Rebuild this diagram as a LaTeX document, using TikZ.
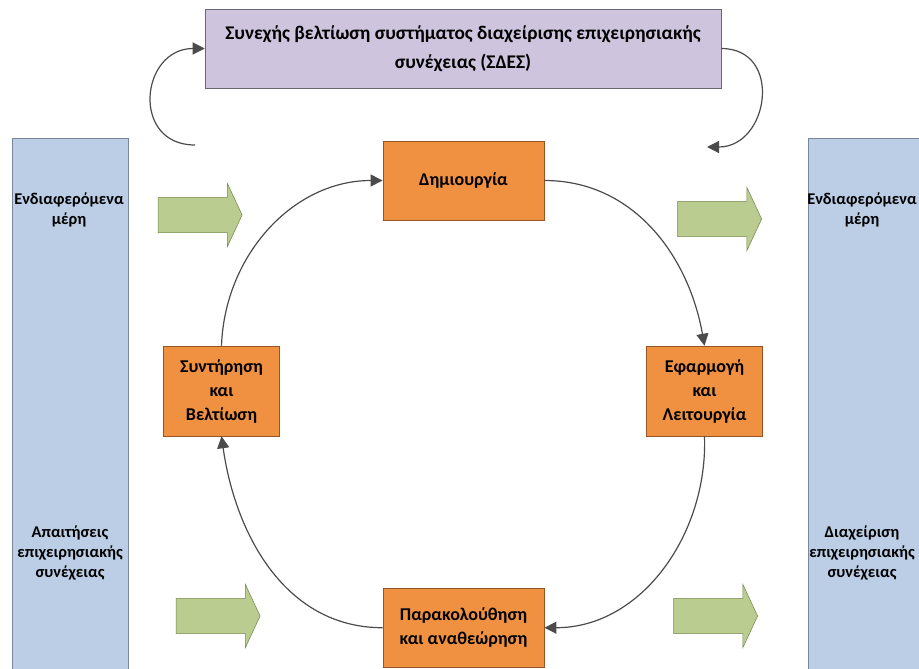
\documentclass[tikz,border=0pt]{standalone}
\usepackage{fontspec}
\setmainfont{Carlito}
\usetikzlibrary{shapes.arrows,arrows.meta,positioning}
\definecolor{stagefill}{RGB}{240,145,66}
\definecolor{stageline}{RGB}{150,85,35}
\definecolor{sidefill}{RGB}{187,206,229}
\definecolor{sideline}{RGB}{120,135,155}
\definecolor{topfill}{RGB}{206,196,222}
\definecolor{topline}{RGB}{105,105,115}
\definecolor{flowfill}{RGB}{186,204,144}
\definecolor{flowline}{RGB}{115,135,75}
\definecolor{cycleline}{RGB}{75,75,75}
\tikzset{
stage/.style = {draw=stageline, fill=stagefill, rectangle, align=center, inner sep=0pt,
                font=\bfseries\fontsize{13.5}{18}\selectfont},
side/.style  = {draw=sideline, fill=sidefill, rectangle, minimum width=87pt, minimum height=402pt},
sidetext/.style = {align=center, inner sep=0pt, font=\bfseries\fontsize{12.3}{15}\selectfont},
improve/.style = {draw=topline, fill=topfill, rectangle, minimum width=387pt, minimum height=59pt,
                align=center, inner sep=0pt, font=\bfseries\fontsize{14.5}{21.5}\selectfont},
flow/.style  = {draw=flowline, fill=flowfill, single arrow, single arrow tip angle=130,
                single arrow head extend=10.5pt, inner ysep=13pt, inner xsep=0pt,
                minimum height=63pt},
cycle/.style = {draw=cycleline, line width=0.9pt, -{Triangle[length=9pt,width=9pt]}},
loop/.style  = {draw=cycleline, line width=0.9pt, -{Triangle[length=9pt,width=9pt]}}
}
\begin{document}
\begin{tikzpicture}[x=0.75pt, y=-0.75pt]
  \clip (0,0) rectangle (919,668);
  \useasboundingbox (0,0) rectangle (919,668);

  % side columns
  \node [side]                                  (sleft)   at (70,406)  {};
  \node [side]                                  (sright)  at (866,406) {};
  \node [sidetext]                              (stake1)  at (69,210)  {Ενδιαφερόμενα\\μέρη};
  \node [sidetext]                              (req)     at (70,553)  {Απαιτήσεις\\επιχειρησιακής\\συνέχειας};
  \node [sidetext]                              (stake2)  at (862,210) {Ενδιαφερόμενα\\μέρη};
  \node [sidetext]                              (bcm)     at (862,553) {Διαχείριση\\επιχειρησιακής\\συνέχειας};

  % cycle
  \node [improve]                               (improve) at (463,48.5) {Συνεχής βελτίωση συστήματος διαχείρισης επιχειρησιακής\\συνέχειας (ΣΔΕΣ)};
  \node [stage, minimum width=121pt, minimum height=59pt] (create)  at (463.5,180.5) {Δημιουργία};
  \node [stage, minimum width=121pt, minimum height=59pt, below=276pt of create] (monitor) {Παρακολούθηση\\και αναθεώρηση};
  \node [stage, minimum width=87pt, minimum height=67.5pt] (operate) at (704.5,391) {Εφαρμογή\\και\\Λειτουργία};
  \node [stage, minimum width=87pt, minimum height=67.5pt] (maintain) at (221.5,391) {Συντήρηση\\και\\Βελτίωση};

  % green arrows
  \node [flow] (in1)  at (196,215)   {};
  \node [flow] (out1) at (715.5,219) {};
  \node [flow] (in2)  at (214,616)   {};
  \node [flow] (out2) at (711.5,616) {};

  \coordinate (lstart) at (195,145);
  \coordinate (rend)   at (707,147);

  \draw [cycle] (create.east) to[out=0, in=100] (operate.north);
  \draw [cycle] (operate.south) to[out=-88, in=0] (monitor.east);
  \draw [cycle] (monitor.west) to[out=180, in=-82] (maintain.south);
  \draw [cycle] (maintain.north) to[out=88, in=180] (create.west);
  \draw [loop] (lstart) to[out=180, in=180, looseness=1.7] (improve.west);
  \draw [loop] (improve.east) to[out=0, in=0, looseness=1.6] (rend);
\end{tikzpicture}
\end{document}
